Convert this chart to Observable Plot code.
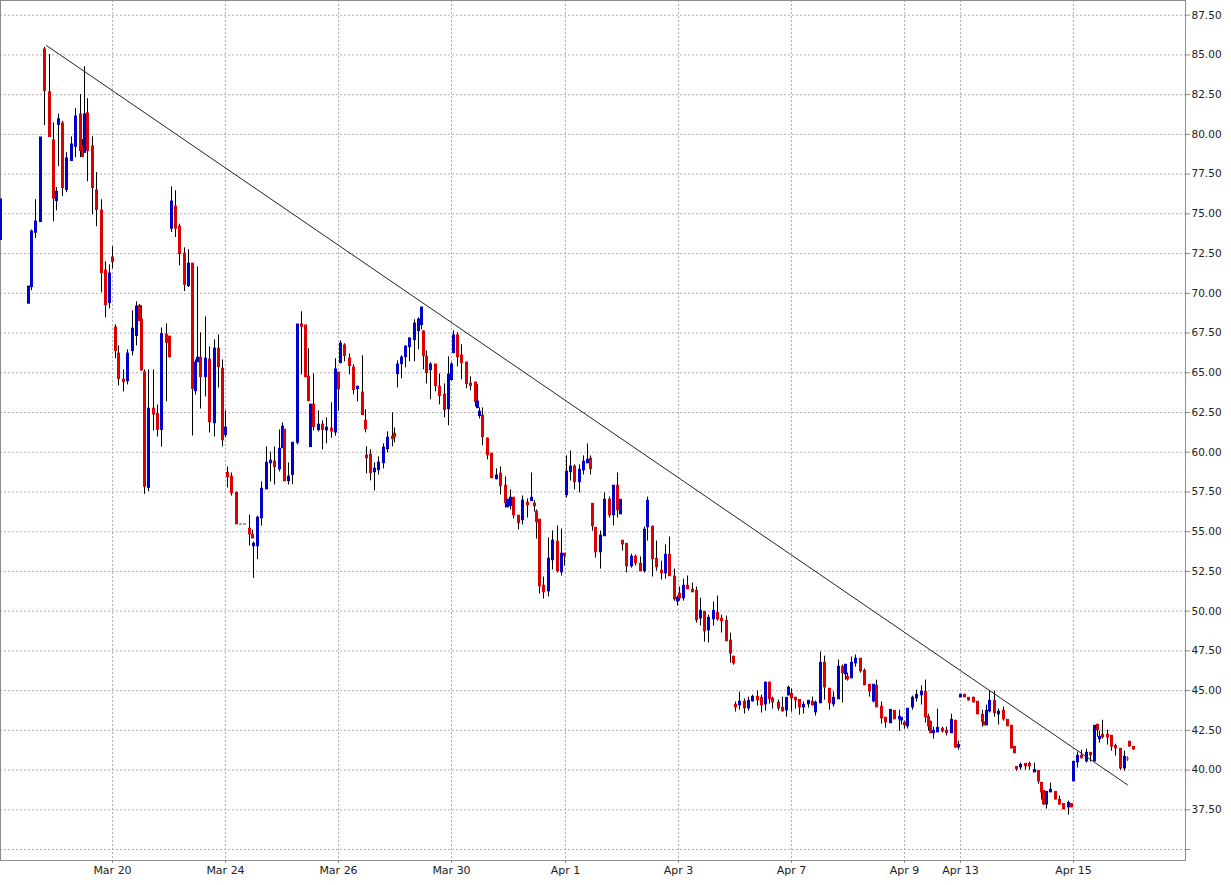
<!DOCTYPE html>
<html>
<head>
<meta charset="utf-8">
<script src="https://cdn.jsdelivr.net/npm/d3@7"></script>
<script src="https://cdn.jsdelivr.net/npm/@observablehq/plot@0.6"></script>
<style>
html, body { margin: 0; padding: 0; background: #fff; }
#chart svg { display: block; }
</style>
</head>
<body>
<div id="chart"></div>
<script>
// Trading-session time in days (Mar 20 open = 0; trading days only)
const session = [
-1.993,-1.484,-1.431,-1.360,-1.272,-1.201,-1.113,-1.042,-0.989,-0.954,
-0.883,-0.813,-0.724,-0.654,-0.565,-0.530,-0.495,-0.442,-0.353,-0.283,
-0.194,-0.124,-0.053,0,0.053,0.106,0.194,0.265,0.353,0.424,
0.477,0.512,0.565,0.636,0.719,0.790,0.860,0.949,1.002,1.042,
1.113,1.184,1.272,1.343,1.413,1.466,1.502,1.555,1.643,1.714,
1.802,1.873,1.943,1.996,2.032,2.102,2.191,2.261,2.332,2.420,
2.474,2.491,2.562,2.633,2.721,2.792,2.862,2.951,3.004,3.039,
3.110,3.180,3.269,3.339,3.410,3.463,3.498,3.551,3.640,3.710,
3.781,3.869,3.940,3.993,4.028,4.099,4.187,4.258,4.329,4.417,
4.470,4.488,4.558,4.629,4.700,4.788,4.859,4.947,4.982,5.035,
5.106,5.177,5.247,5.336,5.406,5.459,5.495,5.548,5.618,5.707,
5.777,5.866,5.936,5.989,6.025,6.095,6.166,6.254,6.325,6.413,
6.449,6.484,6.537,6.626,6.696,6.785,6.855,6.944,6.979,7.032,
7.085,7.173,7.244,7.332,7.403,7.456,7.491,7.544,7.615,7.703,
7.774,7.862,7.933,7.986,8.021,8.092,8.163,8.251,8.322,8.392,
8.445,8.481,8.534,8.622,8.693,8.781,8.852,8.922,8.975,9.011,
9.081,9.170,9.240,9.329,9.399,9.452,9.541,9.611,9.700,9.770,
9.841,9.929,9.982,10.018,10.088,10.159,10.247,10.318,10.389,10.459,
10.530,10.618,10.689,10.760,10.848,10.919,10.972,11.007,11.078,11.166,
11.237,11.307,11.396,11.467,11.537,11.608,11.678,11.767,11.838,11.926,
11.961,12.014,12.085,12.155,12.226,12.314,12.385,12.438,12.527,12.597,
12.686,12.756,12.845,12.915,12.968,13.004,13.074,13.145,13.233,13.304,
13.392,13.463,13.516,13.604,13.675,13.763,13.834,13.922,13.958,14.011,
14.064,14.152,14.223,14.311,14.382,14.435,14.470,14.523,14.594,14.682,
14.753,14.841,14.912,14.965,15.000,15.071,15.141,15.230,15.300,15.389,
15.424,15.459,15.512,15.601,15.671,15.760,15.830,15.901,15.954,15.989,
16.060,16.149,16.219,16.308,16.378,16.431,16.466,16.519,16.590,16.678,
16.749,16.820,16.908,16.961,16.997,17.067,17.138,17.226,17.297,17.368,
17.421,17.456,17.509,17.597,17.668,17.739,17.827,17.898,17.951,17.986,
18.057
];

const open = [
73.37,69.36,70.41,73.83,74.50,85.33,82.63,79.60,75.82,80.61,
80.67,76.52,78.34,79.23,81.24,79.23,78.85,81.30,79.23,76.45,
75.19,71.42,69.40,72.24,67.83,66.19,64.55,64.49,66.38,67.32,
69.19,68.33,65.01,57.77,62.72,62.39,61.42,67.38,67.26,74.08,
75.44,74.18,72.48,70.47,71.85,63.86,65.68,65.93,64.74,65.81,
61.84,66.50,65.24,61.09,58.69,58.44,57.43,55.45,55.45,55.17,
54.79,54.10,54.10,55.86,57.68,59.32,59.39,58.94,60.27,61.40,
58.20,58.59,60.61,68.02,67.96,64.74,60.34,62.98,61.41,61.72,
61.39,61.47,61.26,65.00,65.63,66.70,65.88,65.31,63.99,63.74,
61.97,59.77,59.83,58.76,58.89,59.33,60.21,60.97,61.15,64.93,
65.56,66.00,66.63,67.07,67.64,68.02,67.58,66.00,65.18,65.50,
64.11,63.61,62.73,64.56,66.26,67.33,66.07,65.63,64.30,64.37,
62.79,62.29,62.29,60.84,59.89,58.32,58.64,57.88,56.56,56.62,
57.12,55.99,55.74,56.81,56.94,56.75,56.24,55.74,51.58,51.26,
53.22,54.35,52.46,53.60,57.31,58.76,59.08,58.13,58.88,59.32,
59.58,56.74,55.23,53.72,54.73,56.99,56.05,57.88,56.11,54.41,
54.22,52.84,53.41,52.96,52.52,55.29,55.29,53.28,52.52,52.40,
53.53,52.15,50.63,51.08,50.82,51.58,51.33,51.26,49.56,49.94,
48.81,49.50,49.88,49.50,49.37,48.12,47.11,44.09,44.09,44.28,
43.90,44.34,44.59,44.53,44.15,45.48,44.47,44.22,43.90,43.77,
44.72,44.78,44.53,44.40,43.96,44.15,44.28,43.65,44.22,46.73,
45.10,44.15,44.47,46.48,46.04,45.85,45.79,46.73,46.99,46.23,
45.35,44.34,45.29,43.96,43.27,42.96,43.71,43.21,43.14,42.96,
42.77,43.96,44.53,44.72,44.91,43.33,43.02,42.33,42.39,42.58,
42.45,42.33,43.08,41.44,44.59,44.72,44.53,44.53,44.28,43.46,
42.96,42.83,43.71,44.34,43.52,43.71,43.14,42.77,41.44,40.18,
40.18,40.37,40.37,39.87,39.93,39.18,38.67,37.85,38.61,38.61,
38.11,37.85,37.67,37.85,39.30,40.50,40.88,40.56,41.07,40.56,
42.83,41.95,42.20,42.20,42.14,41.50,41.32,40.12,40.69,41.76,
41.44
];

const high = [
75.89,70.41,73.98,75.89,79.79,85.48,85.02,80.72,76.66,81.28,
80.82,78.85,79.85,81.62,82.50,79.67,84.26,82.25,79.85,77.59,
75.89,71.98,71.79,72.93,68.02,66.69,65.18,66.44,68.90,69.46,
69.30,69.21,65.18,65.18,65.18,62.97,67.82,68.08,67.26,76.70,
76.45,74.35,72.86,72.74,71.85,65.81,71.66,67.51,68.52,66.63,
67.07,67.38,65.81,62.60,59.07,58.69,57.49,55.45,55.45,56.05,
55.10,54.35,55.98,58.13,60.33,60.01,60.33,61.40,61.84,61.40,
59.33,60.63,68.02,68.84,67.96,66.51,62.98,64.93,62.60,61.97,
62.16,63.11,65.88,65.00,67.01,66.82,66.19,65.50,64.11,66.07,
62.67,60.34,60.15,59.33,59.71,60.53,61.28,62.48,61.53,65.75,
66.07,66.70,67.20,68.33,68.46,69.09,67.64,66.38,65.63,65.50,
64.93,64.30,66.00,65.63,67.64,67.52,66.76,65.63,64.74,64.37,
64.24,62.79,62.79,60.90,59.89,58.95,59.08,58.45,57.00,57.63,
57.12,55.99,57.25,57.06,58.70,56.94,56.37,55.74,52.15,54.61,
55.05,55.36,55.17,53.60,59.77,60.08,59.20,59.20,59.77,60.52,
59.77,56.74,55.23,55.04,57.44,57.18,57.88,58.70,56.99,54.41,
54.22,53.59,53.53,53.41,55.29,57.18,55.36,54.41,53.15,54.16,
54.66,52.65,50.95,51.52,52.02,52.21,51.77,51.52,50.82,49.94,
49.75,50.57,50.95,49.75,49.69,48.62,47.17,44.28,44.91,44.47,
44.59,44.72,44.97,44.72,45.54,45.54,44.59,44.40,44.59,44.53,
45.29,45.10,44.59,44.40,44.28,44.34,44.59,44.34,47.43,47.17,
45.10,44.91,46.92,46.61,46.61,46.10,47.11,47.24,46.99,46.36,
45.35,45.35,45.66,44.28,43.33,43.77,43.71,43.77,43.27,43.08,
43.84,44.66,45.03,45.29,45.66,43.52,43.08,42.70,43.84,42.70,
42.70,43.52,43.14,41.82,44.72,44.78,44.53,44.59,44.28,43.77,
43.02,44.09,44.97,44.97,43.84,43.96,43.14,42.77,41.44,40.18,
40.44,40.37,40.50,40.44,39.93,39.18,38.67,38.61,39.18,38.61,
38.36,37.85,38.05,37.85,40.50,41.13,41.25,41.32,41.07,42.77,
42.89,42.45,43.14,42.52,42.14,41.63,41.32,41.19,40.82,41.82,
41.44
];

const low = [
73.37,69.36,70.16,73.45,74.50,80.55,79.85,74.50,75.19,77.97,
76.10,76.33,78.34,78.53,78.53,78.53,78.85,77.02,74.94,74.19,
70.03,68.46,69.02,71.54,65.88,64.17,63.80,64.24,66.06,66.69,
68.27,65.10,57.35,57.52,61.34,60.96,60.33,63.18,65.93,73.83,
73.51,71.73,70.11,70.36,61.02,63.60,65.68,62.72,63.48,61.21,
60.96,64.04,60.33,60.92,57.75,57.24,55.48,55.45,55.45,54.10,
54.54,52.06,53.24,55.35,57.68,58.13,57.94,58.76,60.27,58.19,
57.94,57.96,60.46,64.87,64.68,63.23,60.34,61.34,61.28,60.15,
60.53,60.88,61.01,62.58,65.56,65.69,64.87,63.61,63.17,62.35,
61.22,58.64,58.20,57.57,58.57,58.95,59.96,60.34,60.59,64.05,
64.62,65.31,65.69,65.69,66.44,67.70,65.18,64.30,63.30,63.80,
62.98,62.16,61.66,64.49,66.19,65.37,64.56,63.99,63.86,62.85,
62.79,62.10,60.40,59.52,58.38,58.26,57.31,56.49,56.49,56.37,
55.80,55.11,55.42,55.86,56.94,56.24,54.54,51.08,50.76,50.89,
52.59,52.40,52.21,52.84,57.12,58.19,57.63,57.44,58.57,59.32,
58.57,55.04,53.34,52.65,54.73,55.86,55.36,55.86,56.11,53.78,
52.40,52.71,52.84,52.52,52.40,54.41,52.15,52.52,51.96,52.02,
52.21,50.63,50.32,50.63,50.63,51.39,51.20,49.25,49.06,48.05,
48.00,49.06,49.37,48.62,48.12,46.73,46.60,43.65,43.77,43.52,
43.71,44.28,44.03,43.59,43.71,44.15,43.84,43.71,43.65,43.33,
44.66,43.65,43.84,43.46,43.52,43.90,44.03,43.40,44.22,44.40,
43.77,43.96,44.47,44.22,45.66,45.60,45.79,46.48,46.10,45.35,
44.59,44.22,43.96,42.89,42.64,42.96,43.21,42.45,42.83,42.58,
42.58,43.77,44.28,44.09,42.96,42.45,42.33,41.95,42.39,42.33,
42.14,42.33,41.38,41.25,44.59,44.59,44.34,44.22,43.52,42.70,
42.83,42.83,43.59,43.33,42.83,43.08,42.77,41.32,41.07,39.93,
39.99,39.99,39.99,39.87,39.11,38.11,37.79,37.54,38.61,38.11,
37.79,37.54,37.16,37.67,39.30,40.12,40.75,40.44,40.50,40.56,
42.07,41.70,41.95,41.57,41.19,40.88,39.99,39.93,40.56,41.44,
41.25
];

const close = [
75.89,70.41,73.87,74.50,79.79,82.75,79.85,75.97,76.37,80.93,
76.64,78.47,79.35,81.11,78.97,78.60,81.24,78.97,76.64,75.26,
71.29,69.28,71.23,71.98,66.38,64.62,64.43,66.19,67.76,69.15,
68.27,65.16,57.84,62.72,62.39,61.42,67.42,66.90,66.00,75.76,
74.08,72.48,70.55,71.85,64.00,65.62,65.93,64.74,65.87,61.90,
66.50,65.37,60.77,61.53,58.44,57.43,55.48,55.45,55.45,54.85,
54.60,54.22,55.86,57.68,59.32,59.45,59.07,60.20,61.59,58.19,
58.45,60.57,68.02,67.91,64.74,63.23,62.98,61.60,61.72,61.41,
61.53,61.32,65.19,63.97,66.82,66.07,65.44,63.93,64.11,62.35,
61.47,59.64,58.70,58.95,59.33,60.27,60.90,60.84,60.97,65.50,
65.94,66.63,67.14,68.08,68.33,69.09,66.07,65.00,65.50,64.18,
63.55,62.67,64.87,65.50,67.33,66.00,65.63,64.30,64.18,63.17,
63.17,62.54,60.97,59.83,58.38,58.51,57.88,56.81,57.00,57.12,
56.05,55.55,56.94,56.68,57.12,56.62,55.61,51.58,51.20,53.28,
54.42,52.53,53.60,53.47,58.76,59.08,58.13,58.88,59.39,59.51,
58.95,55.36,53.72,54.73,56.99,56.05,57.88,56.37,56.99,54.22,
52.84,53.41,53.03,52.52,55.11,56.93,53.28,52.78,52.40,53.53,
52.21,50.76,50.82,50.82,51.58,51.39,51.20,49.44,50.00,48.75,
49.56,50.00,49.50,49.37,48.12,47.35,46.73,43.96,44.28,43.90,
44.34,44.59,44.40,44.09,45.48,44.47,44.28,43.90,43.71,44.53,
45.16,44.53,44.40,43.96,44.09,44.34,44.09,44.22,46.73,45.22,
44.22,44.53,46.48,46.10,46.61,45.73,46.73,46.99,46.23,45.35,
44.97,45.35,43.96,43.27,43.02,43.77,43.21,43.33,43.27,42.83,
43.84,44.53,44.72,44.91,43.33,42.77,42.33,42.45,42.64,42.45,
42.33,43.14,41.44,41.57,44.72,44.59,44.40,44.28,43.52,43.02,
42.83,43.71,44.34,43.59,43.65,43.21,42.77,41.38,41.07,40.06,
40.31,40.25,40.25,39.99,39.30,38.61,37.85,38.61,38.74,38.17,
37.85,37.54,37.92,37.67,40.50,40.88,40.75,41.07,40.94,42.77,
42.52,42.07,42.07,42.07,41.50,41.38,40.12,40.82,40.69,41.50,
41.32
];

// Axis ticks
const dayTicks = [0, 2, 4, 6, 8, 10, 12, 14, 15, 17];
const dayLabels = ["Mar 20", "Mar 24", "Mar 26", "Mar 30", "Apr 1", "Apr 3", "Apr 7", "Apr 9", "Apr 13", "Apr 15"];
const priceTicks = [35, 37.5, 40, 42.5, 45, 47.5, 50, 52.5, 55, 57.5, 60, 62.5, 65, 67.5, 70, 72.5, 75, 77.5, 80, 82.5, 85, 87.5];

// Trend line end points
const trendSession = [-1.173, 17.954];
const trendPrice = [85.59, 39.07];

const candles = session.map((t, i) => ({t, o: open[i], h: high[i], l: low[i], c: close[i]}));
const trend = trendSession.map((t, i) => ({t, v: trendPrice[i]}));
const direction = d => d.c > d.o ? "up" : d.c < d.o ? "down" : "flat";

const chart = Plot.plot({
  width: 1231,
  height: 885,
  marginLeft: 0,
  marginRight: 46,
  marginTop: 0,
  marginBottom: 25,
  x: {domain: [-1.986, 18.975], round: true, label: null},
  y: {domain: [34.31, 88.425], label: null},
  color: {domain: ["up", "down", "flat"], range: ["#0000cc", "#dd0000", "#8a8a8a"]},
  style: {fontFamily: "'DejaVu Sans', sans-serif", fontSize: "11px", color: "#222", background: "#fff"},
  marks: [
    Plot.ruleY(priceTicks, {stroke: "#b0b0b0", strokeDasharray: "2,2"}),
    Plot.ruleX(dayTicks, {stroke: "#b0b0b0", strokeDasharray: "2,2"}),
    Plot.frame({stroke: "#8c8c8c"}),
    Plot.ruleX(candles, {x: "t", y1: "h", y2: "l", stroke: "#000", strokeWidth: 1}),
    Plot.ruleX(candles, {
      x: "t",
      y1: d => Math.max(d.o, d.c),
      y2: d => Math.min(d.o, d.c),
      stroke: direction,
      strokeWidth: 3,
      insetTop: -0.75,
      insetBottom: -0.75
    }),
    Plot.line(trend, {x: "t", y: "v", stroke: "#222", strokeWidth: 1}),
    Plot.axisY(priceTicks, {
      anchor: "right",
      label: null,
      tickSize: 4,
      tickPadding: 2,
      tickFormat: d => d === 35 ? "" : d.toFixed(2),
      stroke: "#8c8c8c",
      fill: "#222",
      fontSize: 10.5
    }),
    Plot.axisX(dayTicks, {
      anchor: "bottom",
      label: null,
      tickSize: 3,
      tickPadding: 3,
      tickFormat: d => dayLabels[dayTicks.indexOf(d)],
      stroke: "#8c8c8c",
      fill: "#222",
      fontSize: 11
    })
  ]
});

document.getElementById("chart").append(chart);
</script>
</body>
</html>
